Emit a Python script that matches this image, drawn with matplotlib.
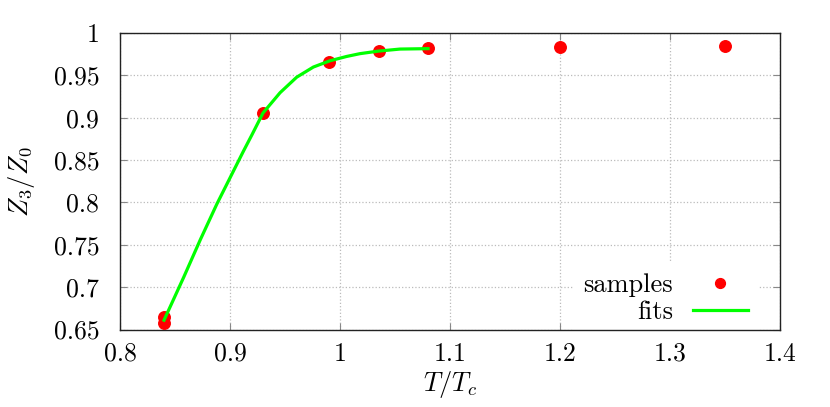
import matplotlib
matplotlib.use('Agg')
import matplotlib.pyplot as plt

plt.rcParams['font.family'] = 'cmr10'
plt.rcParams['mathtext.fontset'] = 'cm'
plt.rcParams['axes.formatter.use_mathtext'] = True

# samples
t_samples = [0.84, 0.84, 0.93, 0.99, 1.035, 1.08, 1.2, 1.35]
z_samples = [0.665, 0.658, 0.906, 0.966, 0.979, 0.982, 0.984, 0.985]

# fit curve, points
t_fit = [0.84, 0.858, 0.873, 0.888, 0.900, 0.912, 0.920, 0.930, 0.9455,
         0.9606, 0.9758, 0.9909, 1.0061, 1.0182, 1.035, 1.0545, 1.08]
z_fit = [0.661, 0.712, 0.756, 0.798, 0.829, 0.860, 0.880, 0.9056, 0.9295,
         0.9478, 0.9598, 0.9672, 0.9723, 0.9756, 0.9786, 0.981, 0.9815]

xticks = [0.8, 0.9, 1.0, 1.1, 1.2, 1.3, 1.4]
xticklabels = ['0.8', '0.9', '1', '1.1', '1.2', '1.3', '1.4']
yticks = [0.65, 0.7, 0.75, 0.8, 0.85, 0.9, 0.95, 1.0]
yticklabels = ['0.65', '0.7', '0.75', '0.8', '0.85', '0.9', '0.95', '1']

fig = plt.figure(figsize=(8.3, 4.07), dpi=100)
ax = fig.add_axes([0.1446, 0.1904, 0.7952, 0.7286])

ax.plot(t_samples, z_samples, 'o', color='#ff0000', markersize=8.3,
        label='samples', zorder=3)
ax.plot(t_fit, z_fit, '-', color='#00ff00', linewidth=2.3, label='fits',
        zorder=4, solid_joinstyle='round')

ax.set_xlim(0.8, 1.4)
ax.set_ylim(0.65, 1.0)
ax.set_xticks(xticks)
ax.set_xticklabels(xticklabels)
ax.set_yticks(yticks)
ax.set_yticklabels(yticklabels)
ax.tick_params(direction='in', labelsize=18.5, top=True, right=True,
               length=5, color='#888888')
ax.tick_params(axis='x', pad=9)
ax.tick_params(axis='y', pad=15)
ax.grid(True, linestyle=':', color='#bbbbbb', linewidth=0.9)
for s in ax.spines.values():
    s.set_linewidth(1.0)
    s.set_color('#222222')

ax.set_xlabel('$T/T_c$', fontsize=19, labelpad=2)
ax.set_ylabel('$Z_3/Z_0$', fontsize=19, labelpad=12)

# legend sits under the spines so the bottom axis line stays visible
leg = ax.legend(loc='lower right', bbox_to_anchor=(0.9676, -0.0185),
                borderaxespad=0, markerfirst=False, fontsize=19,
                handlelength=2.1, handletextpad=0.75, labelspacing=0.15,
                frameon=True, fancybox=False, numpoints=1, markerscale=0.85)
leg.get_frame().set_facecolor('white')
leg.get_frame().set_edgecolor('none')
leg.get_frame().set_alpha(1.0)
leg.set_zorder(2.2)

fig.savefig('out.png', dpi=100)
